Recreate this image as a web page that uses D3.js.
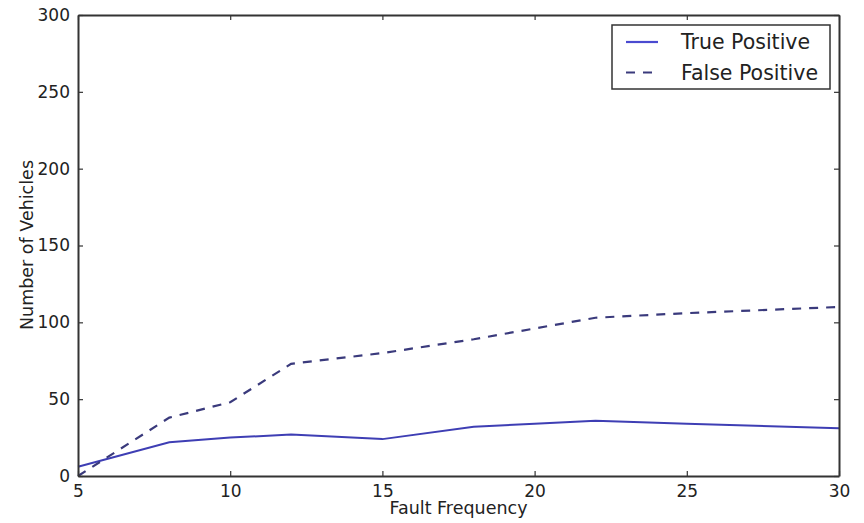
<!DOCTYPE html>
<html>
<head>
<meta charset="utf-8">
<script src="https://cdn.jsdelivr.net/npm/d3@7"></script>
<style>
  html, body { margin: 0; padding: 0; background: #ffffff; }
  svg { display: block; }
  text { font-family: "DejaVu Sans", sans-serif; fill: #222; }
</style>
</head>
<body>
<svg id="chart" width="864" height="523"></svg>
<script>
const faultFrequency = [5, 8, 10, 12, 15, 18, 20, 22, 25, 30];
const truePositive   = [6, 22, 25, 27, 24, 32, 34, 36, 34, 31];
const falsePositive  = [0, 38, 48, 73, 80, 89, 96, 103, 106, 110];
const xTicks = [5, 10, 15, 20, 25, 30];
const yTicks = [0, 50, 100, 150, 200, 250, 300];
const seriesNames = ["True Positive", "False Positive"];

(function () {
const W = 864, H = 523;
const m = { left: 78, right: 25, top: 15, bottom: 47 };
const svg = d3.select("#chart");

const x = d3.scaleLinear().domain([5, 30]).range([m.left, W - m.right]);
const y = d3.scaleLinear().domain([0, 300]).range([H - m.bottom, m.top]);

const fontSize = 17;
const tickLen = 5;
const axisColor = "#333";
const dash = "9,8";

// Lines
const line = d3.line().x(d => x(d[0])).y(d => y(d[1]));
const tpData = faultFrequency.map((f, i) => [f, truePositive[i]]);
const fpData = faultFrequency.map((f, i) => [f, falsePositive[i]]);

svg.append("path").datum(tpData)
  .attr("d", line).attr("fill", "none")
  .attr("stroke", "#3e3eb4").attr("stroke-width", 2);
svg.append("path").datum(fpData)
  .attr("d", line).attr("fill", "none")
  .attr("stroke", "#3a3a7c").attr("stroke-width", 2.2)
  .attr("stroke-dasharray", dash);

// Axes (ticks inward, matplotlib style)
const gBottom = svg.append("g").attr("transform", `translate(0,${H - m.bottom})`)
  .call(d3.axisBottom(x).tickValues(xTicks).tickSizeInner(-tickLen).tickSizeOuter(0).tickPadding(7));
const gTop = svg.append("g").attr("transform", `translate(0,${m.top})`)
  .call(d3.axisTop(x).tickValues(xTicks).tickSizeInner(-tickLen).tickSizeOuter(0).tickFormat(""));
const gLeft = svg.append("g").attr("transform", `translate(${m.left},0)`)
  .call(d3.axisLeft(y).tickValues(yTicks).tickSizeInner(-tickLen).tickSizeOuter(0).tickPadding(8));
const gRight = svg.append("g").attr("transform", `translate(${W - m.right},0)`)
  .call(d3.axisRight(y).tickValues(yTicks).tickSizeInner(-tickLen).tickSizeOuter(0).tickFormat(""));

[gBottom, gTop, gLeft, gRight].forEach(g => {
  g.select(".domain").attr("stroke", axisColor).attr("stroke-width", 2);
  g.selectAll(".tick line").attr("stroke", axisColor).attr("stroke-width", 1.2);
  g.selectAll(".tick text").attr("font-size", fontSize).attr("fill", "#222")
    .attr("font-family", "DejaVu Sans, sans-serif");
});
gBottom.selectAll(".tick text").attr("dy", "0.85em");

// Axis labels
svg.append("text").attr("x", (m.left + W - m.right) / 2).attr("y", 514)
  .attr("text-anchor", "middle").attr("font-size", 17.5).text("Fault Frequency");
svg.append("text").attr("transform", `translate(32.5,245) rotate(-90)`)
  .attr("text-anchor", "middle").attr("font-size", 17.5).text("Number of Vehicles");

// Legend
const lg = svg.append("g");
lg.append("rect").attr("x", 612).attr("y", 25).attr("width", 218).attr("height", 64)
  .attr("fill", "#fff").attr("stroke", axisColor).attr("stroke-width", 1.5);
const rows = [
  { name: seriesNames[0], color: "#4a4ad0", dash: null, w: 2.2 },
  { name: seriesNames[1], color: "#3a3a7c", dash: dash, w: 2.2 }
];
rows.forEach((r, i) => {
  const cy = 42 + i * 30.5;
  lg.append("line").attr("x1", 626).attr("x2", 658).attr("y1", cy).attr("y2", cy)
    .attr("stroke", r.color).attr("stroke-width", r.w)
    .attr("stroke-dasharray", r.dash);
  lg.append("text").attr("x", 681).attr("y", cy).attr("dy", "0.36em")
    .attr("font-size", 20.5).text(r.name);
});
})();
</script>
</body>
</html>
